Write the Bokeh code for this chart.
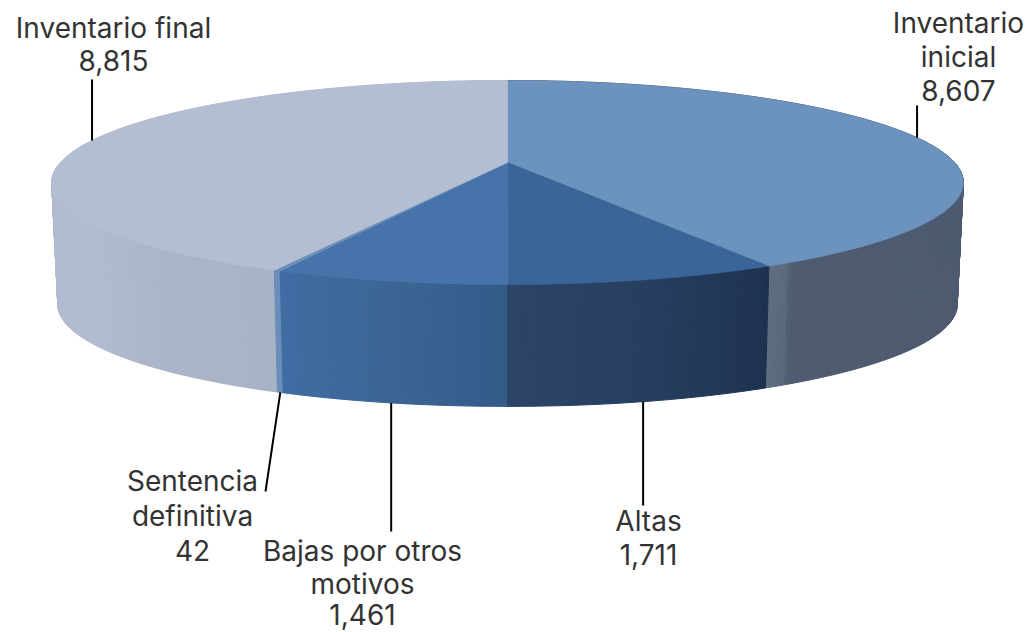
import numpy as np
from bokeh.plotting import figure
from bokeh.models import ColumnDataSource
from bokeh.core.properties import value
from bokeh.embed import file_html
from bokeh.resources import INLINE

categories = ["Inventario inicial", "Altas", "Bajas por otros motivos", "Sentencia definitiva", "Inventario final"]
values = [8607, 1711, 1461, 42, 8815]
value_labels = ["8,607", "1,711", "1,461", "42", "8,815"]
top_colors = ["#6C93BE", "#3B6598", "#4673A9", "#6A8DBA", "#B4BED2"]
side_stops = [
    [(0.0, "#4E5B70"), (0.98, "#4E5B70"), (0.985, "#5A697D"), (1.0, "#5E6D80")],
    [(0.0, "#1D324F"), (0.5, "#263F60"), (1.0, "#2B4467")],
    [(0.0, "#345A88"), (0.5, "#3C6595"), (1.0, "#3F6CA3")],
    [(0.0, "#6A8DBA"), (1.0, "#6A8DBA")],
    [(0.0, "#A9B3C6"), (0.1, "#ABB5C8"), (0.2, "#B2BCD1"), (1.0, "#B2BCD1")],
]
# label lines: (text, x centre, y centre), image pixels
label_layout = [
    [("Inventario", 958, 22), ("inicial", 958, 56), ("8,607", 958, 90)],
    [("Altas", 648, 520), ("1,711", 648, 554)],
    [("Bajas por otros", 362, 550), ("motivos", 362, 583), ("1,461", 362, 614)],
    [("Sentencia", 192, 480), ("definitiva", 192, 515), ("42", 192, 550)],
    [("Inventario final", 113, 27), ("8,815", 113, 60)],
]
leader_ends = [(None, 105), (None, 505), (None, 531), (265, 491), (None, 79)]
leader_on_top = [True, False, False, False, True]

CX, K = 507.0, 0.196
TOP = dict(y0=162.0, A=447.0, B=98.08)
BOT = dict(y0=284.0, A=441.0, B=98.0)


def project(theta_deg, g):
    t = np.radians(theta_deg)
    t = t - np.radians(1.0) * np.sin(2 * t)
    s, c = np.sin(t), np.cos(t)
    w = 1 + K * c
    return CX + g["A"] * s / w, g["y0"] - g["B"] * c / w


def hex2rgb(h):
    return np.array([int(h[i:i + 2], 16) for i in (1, 3, 5)], float)


def lerp_color(stops, f):
    for (a, ca), (b, cb) in zip(stops, stops[1:]):
        if f <= b:
            m = (f - a) / max(b - a, 1e-9)
            r = hex2rgb(ca) * (1 - m) + hex2rgb(cb) * m
            return "#%02x%02x%02x" % tuple(int(round(v)) for v in r)
    return stops[-1][1]


p = figure(width=1032, height=632, x_range=(0, 1032), y_range=(632, 0),
           output_backend="svg", toolbar_location=None, min_border=0,
           outline_line_color=None)
p.axis.visible = False
p.grid.visible = False
p.background_fill_color = "white"

total = sum(values)
edges = np.concatenate([[0], np.cumsum(values) / total * 360.0])

# side wall, painted as narrow quads, back ones first
quads = []
for i, stops in enumerate(side_stops):
    a, b = edges[i], edges[i + 1]
    n = max(2, int((b - a) * 2))
    grid = np.linspace(a, b, n + 1)
    for j in range(n):
        t0, t1 = grid[j], grid[j + 1]
        x0, y0 = project(t0, TOP)
        x1, y1 = project(t1, TOP)
        x2, y2 = project(t1, BOT)
        x3, y3 = project(t0, BOT)
        depth = np.cos(np.radians((t0 + t1) / 2))
        quads.append((depth, [x0, x1, x2, x3], [y0, y1, y2, y3], lerp_color(stops, (j + 0.5) / n)))
quads.sort(key=lambda q: -q[0])
cols = [q[3] for q in quads]
p.patches([q[1] for q in quads], [q[2] for q in quads], fill_color=cols, line_color=cols, line_width=1)

# top faces
apex = (CX, TOP["y0"])
txs, tys = [], []
for i in range(len(values)):
    th = np.linspace(edges[i], edges[i + 1], max(3, int(edges[i + 1] - edges[i]) * 2))
    ex, ey = project(th, TOP)
    txs.append([apex[0], *ex])
    tys.append([apex[1], *ey])
p.patches(txs, tys, fill_color=top_colors, line_color=top_colors, line_width=0.5)

# leader lines
mids = (edges[:-1] + edges[1:]) / 2
for i, m in enumerate(mids):
    sx, sy = project(m, TOP if leader_on_top[i] else BOT)
    ex, ey = leader_ends[i]
    ex = sx if ex is None else ex
    p.line([sx, ex], [sy, ey], line_color="#000000", line_width=2)

# labels
src = ColumnDataSource(dict(
    x=[l[1] for g in label_layout for l in g],
    y=[l[2] for g in label_layout for l in g],
    text=[l[0] for g in label_layout for l in g],
))
p.text("x", "y", text="text", source=src, text_font=value("Inter"),
       text_font_size="28px", text_align="center", text_baseline="middle",
       text_color="#333333")

open("out.html", "w").write(file_html(p, INLINE))
